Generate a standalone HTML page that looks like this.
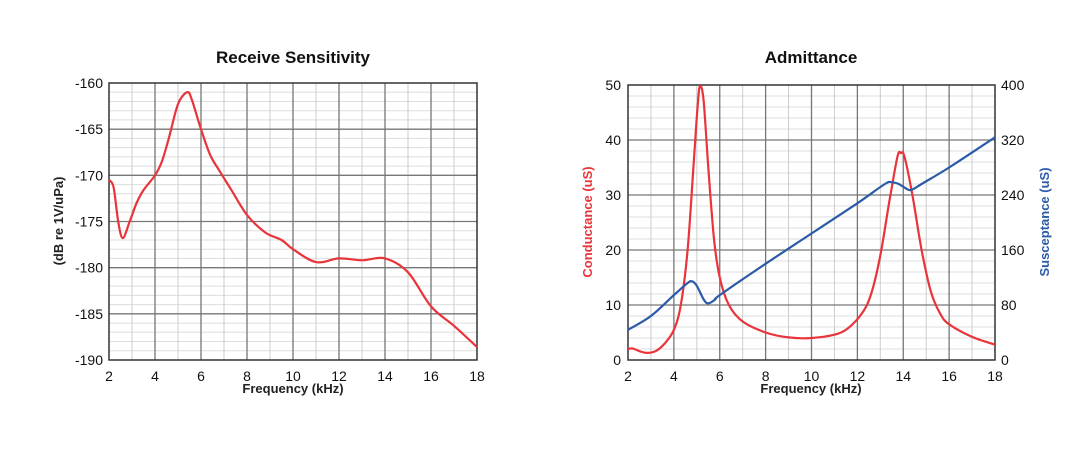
<!DOCTYPE html>
<html><head><meta charset="utf-8"><style>
html,body{margin:0;padding:0;background:#fff;width:1084px;height:456px;overflow:hidden}
svg text{font-family:"Liberation Sans",Arial,sans-serif}
</style></head><body>
<svg id="s" width="1084" height="456" xmlns="http://www.w3.org/2000/svg"></svg>
<script>
var s=document.getElementById('s'),h='';
function grid(x0,x1,y0,y1,nyMinor){
  var w=x1-x0;
  for(var i=0;i<nyMinor;i++){var y=y0+(y1-y0)*i/nyMinor;h+='<line x1="'+x0+'" x2="'+x1+'" y1="'+y+'" y2="'+y+'" stroke="#ddd" stroke-width="1"/>';}
  for(var k=1;k<16;k+=2){var x=x0+w*k/16;h+='<line x1="'+x+'" x2="'+x+'" y1="'+y0+'" y2="'+y1+'" stroke="#ccc" stroke-width="1"/>';}
  for(var k=2;k<16;k+=2){var x=x0+w*k/16;h+='<line x1="'+x+'" x2="'+x+'" y1="'+y0+'" y2="'+y1+'" stroke="#777" stroke-width="1.3"/>';}
}
function majY(x0,x1,y0,y1,n){for(var j=1;j<n;j++){var y=y0+(y1-y0)*j/n;h+='<line x1="'+x0+'" x2="'+x1+'" y1="'+y+'" y2="'+y+'" stroke="#777" stroke-width="1.3"/>';}
 h+='<rect x="'+x0+'" y="'+y0+'" width="'+(x1-x0)+'" height="'+(y1-y0)+'" fill="none" stroke="#333" stroke-width="1.5"/>';}
function spline(pts){
  var d='M'+pts[0][0].toFixed(1)+','+pts[0][1].toFixed(1);
  for(var i=0;i<pts.length-1;i++){
    var p0=pts[Math.max(i-1,0)],p1=pts[i],p2=pts[i+1],p3=pts[Math.min(i+2,pts.length-1)];
    var c1x=p1[0]+(p2[0]-p0[0])/6,c1y=p1[1]+(p2[1]-p0[1])/6,c2x=p2[0]-(p3[0]-p1[0])/6,c2y=p2[1]-(p3[1]-p1[1])/6;
    d+=' C'+c1x.toFixed(1)+','+c1y.toFixed(1)+' '+c2x.toFixed(1)+','+c2y.toFixed(1)+' '+p2[0].toFixed(1)+','+p2[1].toFixed(1);
  }return d;
}
var L={x0:109,x1:477,y0:83,y1:360};
grid(L.x0,L.x1,L.y0,L.y1,30);majY(L.x0,L.x1,L.y0,L.y1,6);
var ld=[[2,-170.5],[2.2,-171.3],[2.4,-175],[2.6,-176.8],[2.9,-175],[3.2,-173],[3.5,-171.6],[4,-170],[4.3,-168.5],[4.6,-166],[5,-162.3],[5.4,-161],[5.6,-161.8],[6,-165],[6.4,-167.8],[6.8,-169.5],[7.3,-171.5],[8,-174.3],[8.8,-176.2],[9.5,-177],[10,-178],[11,-179.4],[12,-179],[13,-179.2],[14,-179],[15,-180.5],[16,-184.2],[17,-186.3],[18,-188.6]];
var lp=ld.map(function(p){return [L.x0+(p[0]-2)*(L.x1-L.x0)/16, L.y0+(-160-p[1])*(L.y1-L.y0)/30];});
h+='<path d="'+spline(lp)+'" fill="none" stroke="#e8343a" stroke-width="2.2" stroke-linejoin="round"/>';
for(var j=0;j<=6;j++){h+='<text x="'+(L.x0-6)+'" y="'+(L.y0+(L.y1-L.y0)*j/6+5)+'" font-size="14" text-anchor="end" fill="#111">'+(-160-5*j)+'</text>';}
for(var k=0;k<=8;k++){h+='<text x="'+(L.x0+(L.x1-L.x0)*k/8)+'" y="381" font-size="14" text-anchor="middle" fill="#111">'+(2+2*k)+'</text>';}
h+='<text x="293" y="393" font-size="13" font-weight="bold" text-anchor="middle" fill="#222">Frequency (kHz)</text>';
h+='<text x="293" y="63" font-size="17" font-weight="bold" text-anchor="middle" fill="#111">Receive Sensitivity</text>';
h+='<text transform="translate(63,221) rotate(-90)" font-size="13" font-weight="bold" text-anchor="middle" fill="#222">(dB re 1V/uPa)</text>';
var R={x0:628,x1:995,y0:85,y1:360};
grid(R.x0,R.x1,R.y0,R.y1,25);majY(R.x0,R.x1,R.y0,R.y1,5);
function rp(p){return [R.x0+(p[0]-2)*(R.x1-R.x0)/16, R.y1-p[1]*(R.y1-R.y0)/50];}
var g=[[2,2],[2.2,2.1],[2.5,1.6],[2.8,1.3],[3.2,1.6],[3.6,3],[4,5.5],[4.3,10],[4.6,20],[4.85,35],[5.05,47],[5.15,49.8],[5.3,47],[5.5,35],[5.75,22],[6,15],[6.4,10],[7,7],[8,5],[9,4.1],[10,4],[11,4.6],[11.6,5.8],[12.2,8.5],[12.6,12],[13,19],[13.4,29],[13.75,37],[13.9,37.6],[14.05,37],[14.4,30],[14.8,20],[15.2,12.5],[15.6,8.5],[16,6.5],[17,4.2],[18,2.8]];
var b=[[2,5.5],[3,8],[4,11.8],[4.6,14],[4.8,14.3],[5,13.5],[5.3,11],[5.5,10.3],[5.8,11],[6,11.8],[8,17.5],[10,23],[12,28.5],[13.2,32],[13.5,32.3],[13.8,32],[14.2,31],[14.4,31],[14.8,32],[16,35],[18,40.5]];
h+='<path d="'+spline(g.map(rp))+'" fill="none" stroke="#e8343a" stroke-width="2.2"/>';
h+='<path d="'+spline(b.map(rp))+'" fill="none" stroke="#2b5aa8" stroke-width="2.2"/>';
for(var j=0;j<=5;j++){var y=R.y1-(R.y1-R.y0)*j/5+5;
 h+='<text x="'+(R.x0-7)+'" y="'+y+'" font-size="14" text-anchor="end" fill="#111">'+(10*j)+'</text>';
 h+='<text x="'+(R.x1+6)+'" y="'+y+'" font-size="14" text-anchor="start" fill="#111">'+(80*j)+'</text>';}
for(var k=0;k<=8;k++){h+='<text x="'+(R.x0+(R.x1-R.x0)*k/8)+'" y="381" font-size="14" text-anchor="middle" fill="#111">'+(2+2*k)+'</text>';}
h+='<text x="811" y="393" font-size="13" font-weight="bold" text-anchor="middle" fill="#222">Frequency (kHz)</text>';
h+='<text x="811" y="63" font-size="17" font-weight="bold" text-anchor="middle" fill="#111">Admittance</text>';
h+='<text transform="translate(592,222) rotate(-90)" font-size="13" font-weight="bold" text-anchor="middle" fill="#e8343a">Conductance (uS)</text>';
h+='<text transform="translate(1049,222) rotate(-90)" font-size="13" font-weight="bold" text-anchor="middle" fill="#2b5aa8">Susceptance (uS)</text>';
s.innerHTML=h;
</script>
</body></html>
